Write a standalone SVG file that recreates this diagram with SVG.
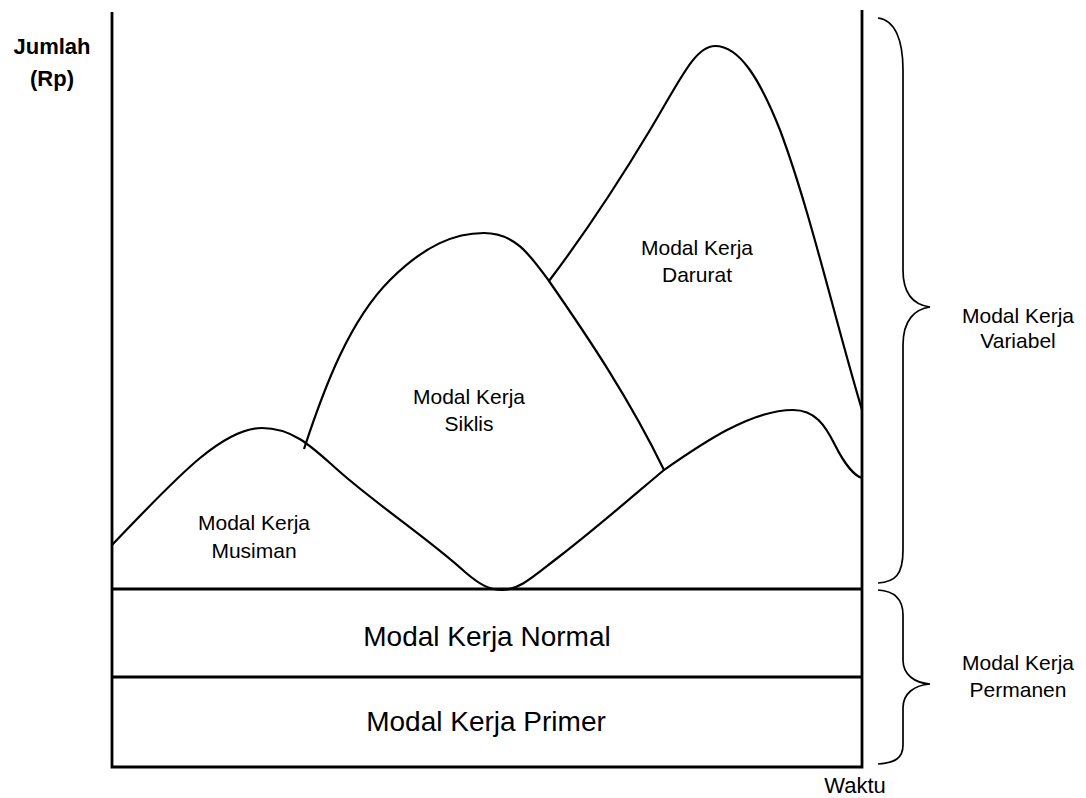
<svg xmlns="http://www.w3.org/2000/svg" width="1086" height="798" viewBox="0 0 1086 798">
<style>
.ax{stroke:#000;stroke-width:2.8;fill:none}
.cv{stroke:#000;stroke-width:2.2;fill:none}
.br{stroke:#000;stroke-width:1.7;fill:none}
text{font-family:"Liberation Sans",Arial,sans-serif;fill:#000;text-anchor:middle}
.lb{font-size:21px}
.big{font-size:28px}
.hd{font-size:22px;font-weight:bold}
</style>
<rect width="1086" height="798" fill="#fff"/>
<g id="axes">
<path class="ax" d="M112,12 V767 H862 V10"/>
<path class="ax" d="M112,589 H862 M112,677 H862"/>
</g>
<g id="connectors">
<path class="cv" d="M112,545 C170,485 220,428 262,428 C295,428 315,450 340,472 C380,507 430,540 465,572 C480,585 490,590 502,590 C520,590 535,575 560,556 C600,525 640,490 664,470 C700,445 750,410 793,410 C815,410 825,425 835,445 C845,465 855,476 862,478"/>
<path class="cv" d="M304,449 C325,385 350,320 390,280 C425,245 455,233 484,233 C515,233 530,255 549,281 C590,340 630,400 664,470"/>
<path class="cv" d="M549,281 C580,240 620,180 650,130 C680,80 695,46 715,46 C740,46 760,80 780,130 C810,210 835,320 862,410"/>
</g>
<g id="brace-variabel">
<path class="br" d="M878,18 C895,20 903,40 903,70 L903,270 C903,295 915,305 930,307 C915,309 903,320 903,345 L903,550 C903,575 895,582 878,583"/>
<text class="lb" x="1018" y="323">Modal Kerja</text>
<text class="lb" x="1018" y="348">Variabel</text>
</g>
<g id="brace-permanen">
<path class="br" d="M878,590 C895,591 903,600 903,615 L903,660 C903,675 915,683 930,684 C915,685 903,693 903,708 L903,745 C903,758 895,763 878,764"/>
<text class="lb" x="1018" y="670">Modal Kerja</text>
<text class="lb" x="1018" y="697">Permanen</text>
</g>
<g id="label-jumlah">
<text class="hd" x="52" y="54">Jumlah</text>
<text class="hd" x="52" y="86">(Rp)</text>
</g>
<g id="label-waktu"><text x="855" y="793" style="font-size:22px">Waktu</text></g>
<g id="node-darurat">
<text class="lb" x="697" y="255">Modal Kerja</text>
<text class="lb" x="697" y="282">Darurat</text>
</g>
<g id="node-siklis">
<text class="lb" x="469" y="404">Modal Kerja</text>
<text class="lb" x="469" y="431">Siklis</text>
</g>
<g id="node-musiman">
<text class="lb" x="254" y="530">Modal Kerja</text>
<text class="lb" x="254" y="558">Musiman</text>
</g>
<g id="node-normal"><text class="big" x="487" y="646">Modal Kerja Normal</text></g>
<g id="node-primer"><text class="big" x="486" y="731">Modal Kerja Primer</text></g>
</svg>
